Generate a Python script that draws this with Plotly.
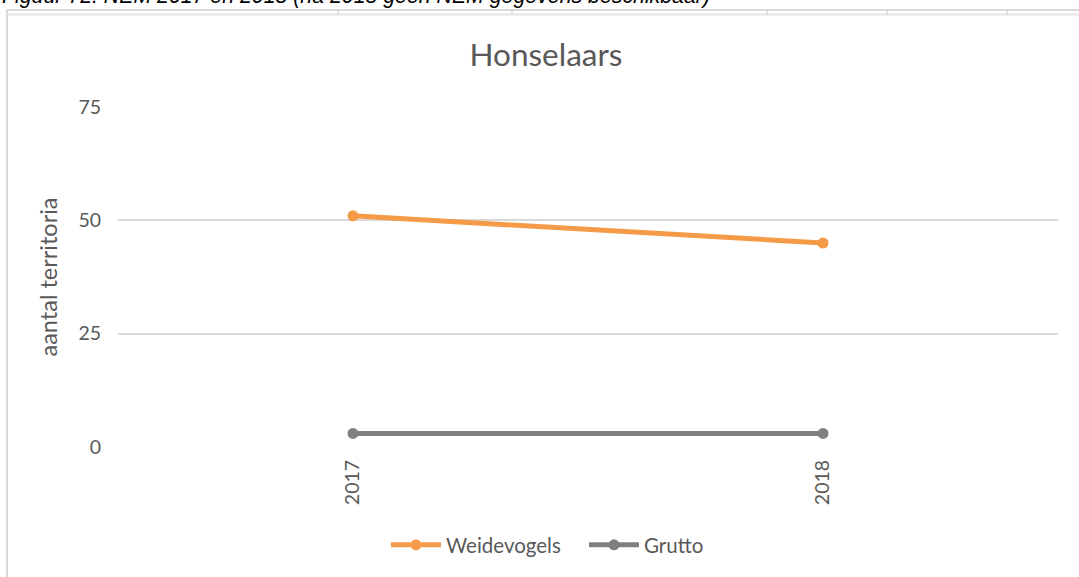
import plotly.graph_objects as go

# ---- data ----
years = ["2017", "2018"]
weidevogels = [51, 45]
grutto = [3, 3]
y_ticks = [0, 25, 50, 75]

title_text = "Honselaars"
y_title = "aantal territoria"
caption = "Figuur 72: NEM 2017 en 2018 (na 2018 geen NEM gegevens beschikbaar)"

# ---- layout constants ----
W, H = 1079, 577
L, R, T, B = 118, 21, 107, 130
PW, PH = W - L - R, H - T - B

def px(x):
    return (x - L) / PW

def py(y):
    return (H - B - y) / PH

ORANGE = "#F59B47"
GREY = "#7F7F7F"
TXT = "#595959"
FONT = "Lato"

fig = go.Figure()
fig.add_trace(go.Scatter(
    x=years, y=weidevogels, name="Weidevogels", mode="lines+markers",
    line=dict(color=ORANGE, width=5), marker=dict(color=ORANGE, size=11)))
fig.add_trace(go.Scatter(
    x=years, y=grutto, name="Grutto", mode="lines+markers",
    line=dict(color=GREY, width=5), marker=dict(color=GREY, size=11)))

shapes = [
    dict(type="rect", xref="paper", yref="paper", x0=px(7), x1=px(1100),
         y0=py(10), y1=py(620), line=dict(color="#D9D9D9", width=2)),
    dict(type="line", xref="paper", yref="paper", x0=px(7), x1=px(1100),
         y0=py(14.5), y1=py(14.5), line=dict(color="#E3E3E3", width=2)),
]
for xv in [338, 512, 767, 887, 1007]:
    shapes.append(dict(type="line", xref="paper", yref="paper", x0=px(xv), x1=px(xv),
                       y0=py(9), y1=py(15), line=dict(color="#D9D9D9", width=1.5)))

fig.update_layout(
    width=W, height=H,
    margin=dict(l=L, r=R, t=T, b=B),
    paper_bgcolor="white", plot_bgcolor="white",
    font=dict(family=FONT, color=TXT, size=19),
    title=dict(text=title_text, x=546 / W, xref="container", xanchor="center",
               y=1 - 55 / H, yref="container", yanchor="middle",
               font=dict(family=FONT, size=31.5, color=TXT)),
    xaxis=dict(type="category", range=[-0.5, 1.5], tickangle=-90,
               showgrid=False, zeroline=False, showline=False,
               tickfont=dict(size=19.5, color=TXT), ticklabelstandoff=8),
    yaxis=dict(range=[0, 75], tickvals=y_ticks, showgrid=True, gridcolor="#D9D9D9",
               gridwidth=1.5, zeroline=False, showline=False,
               tickfont=dict(size=19.5, color=TXT), ticklabelstandoff=16,
               title=dict(text=y_title, font=dict(size=23.5, color=TXT), standoff=14)),
    legend=dict(orientation="h", x=px(386), xanchor="left", y=py(545), yanchor="middle",
                font=dict(size=20.5, color=TXT), itemwidth=50,
                entrywidth=133, entrywidthmode="pixels", bgcolor="rgba(0,0,0,0)"),
    shapes=shapes,
    annotations=[dict(text=caption, xref="paper", yref="paper", x=px(0), xanchor="left",
                      y=py(-4), yanchor="middle", showarrow=False,
                      font=dict(family="Liberation Sans", size=21.3, color="#000000",
                                style="italic"))],
)

fig.write_html("out.html", config={"displayModeBar": False},
               post_script="document.body.style.margin='0';document.body.style.overflow='hidden';")
